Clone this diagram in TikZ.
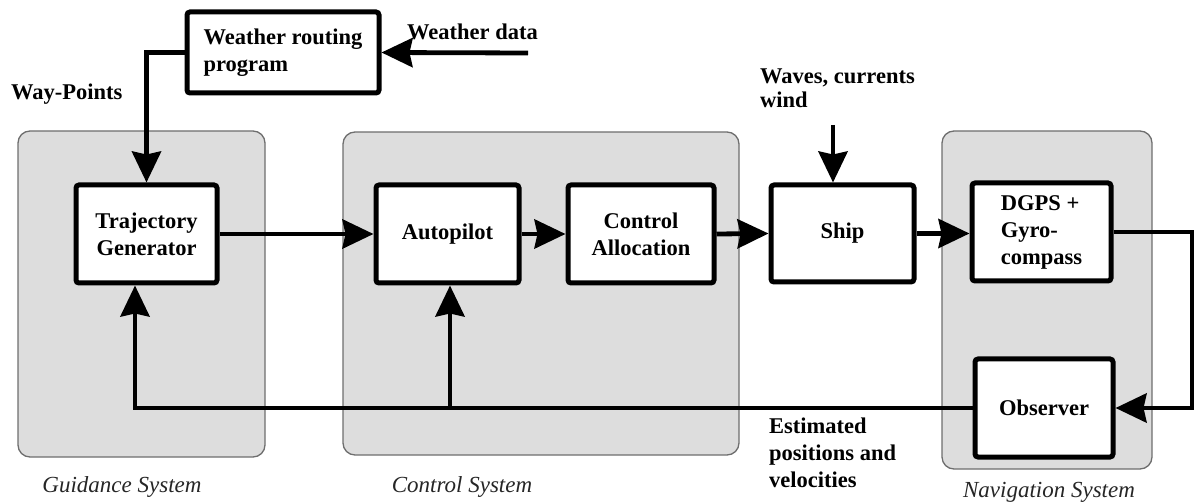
\documentclass[tikz,border=0pt]{standalone}
\usepackage{fontspec}
\setmainfont{Liberation Serif}
\usetikzlibrary{arrows.meta}
\definecolor{panelfill}{RGB}{221,221,221}
\definecolor{panelline}{RGB}{110,110,110}
\tikzset{
  panel/.style={draw=panelline, fill=panelfill, line width=1.3pt, rounded corners=12pt},
  block/.style={draw=black, fill=white, line width=5pt, rounded corners=3pt,
    font=\fontsize{22.5}{27}\selectfont\bfseries, inner sep=0pt},
  conn/.style={line width=4.8pt, -{Stealth[length=31pt,width=29pt,inset=3pt]}},
  lbl/.style={font=\fontsize{22.5}{27}\selectfont\bfseries, anchor=base west, inner sep=0pt, align=left},
  syslbl/.style={font=\fontsize{23}{27}\selectfont\itshape, anchor=base, inner sep=0pt, text=black!85}
}
\begin{document}
\begin{tikzpicture}[x=1pt,y=-1pt]
\path[use as bounding box] (0,0) rectangle (1194,502);

% subsystem panels
\draw[panel] (18,131) rectangle (265,457);
\draw[panel] (343,132) rectangle (739,455);
\draw[panel] (942,131) rectangle (1152,469);

% blocks
\node[block, minimum width=192pt, minimum height=81pt, align=left] (wr) at (283,52.5)
  {Weather routing\\program};
\node[block, minimum width=141pt, minimum height=98pt, align=center] (tg) at (146.5,234)
  {Trajectory\\Generator};
\node[block, minimum width=143pt, minimum height=98pt] (ap) at (447.5,234) {Autopilot};
\node[block, minimum width=146pt, minimum height=98pt, align=center] (ca) at (641,234)
  {Control\\Allocation};
\node[block, minimum width=143pt, minimum height=97pt] (ship) at (842.5,233.5) {Ship};
\node[block, minimum width=139pt, minimum height=98pt, align=left] (dg) at (1041.5,232)
  {DGPS +\\Gyro-\\compass};
\node[block, minimum width=138pt, minimum height=98pt] (obs) at (1044,408) {Observer};

% free ends of the input arrows
\coordinate (wd) at (528,53);
\coordinate (wv) at (833,125);

% forward path
\draw[conn] (wd) -- (wr.east);
\draw[conn] (wr.west) -| (tg.north);
\draw[conn] (tg.east) -- (ap.west);
\draw[conn] (ap.east) -- (ca.west);
\draw[conn] (ca.east) -- (ship.west);
\draw[conn] (wv) -- (wv |- ship.north);
\draw[conn] (ship.east) -- (dg.west |- ship.east);

% measurement loop and feedback
\draw[conn] (dg.east) -- ++(79,0) |- (obs.east);
\draw[conn] (obs.west) -| ([xshift=-11.5pt]tg.south);
\draw[conn] ([xshift=2.5pt]ap.south |- obs.west) -- ([xshift=2.5pt]ap.south);

% signal labels (base anchor sits on the last line)
\node[lbl] (wdl) at (407,40) {Weather data};
\node[lbl] (wpl) at (11,100) {Way-Points};
\node[lbl, font=\fontsize{22.5}{24}\selectfont\bfseries] (wvl) at (760,108) {Waves, currents\\wind};
\node[lbl] (epl) at (769,487) {Estimated\\positions and\\velocities};

% subsystem names
\node[syslbl] (gs) at (122,492) {Guidance System};
\node[syslbl] (cs) at (462,492) {Control System};
\node[syslbl] (ns) at (1049,497) {Navigation System};
\end{tikzpicture}
\end{document}
